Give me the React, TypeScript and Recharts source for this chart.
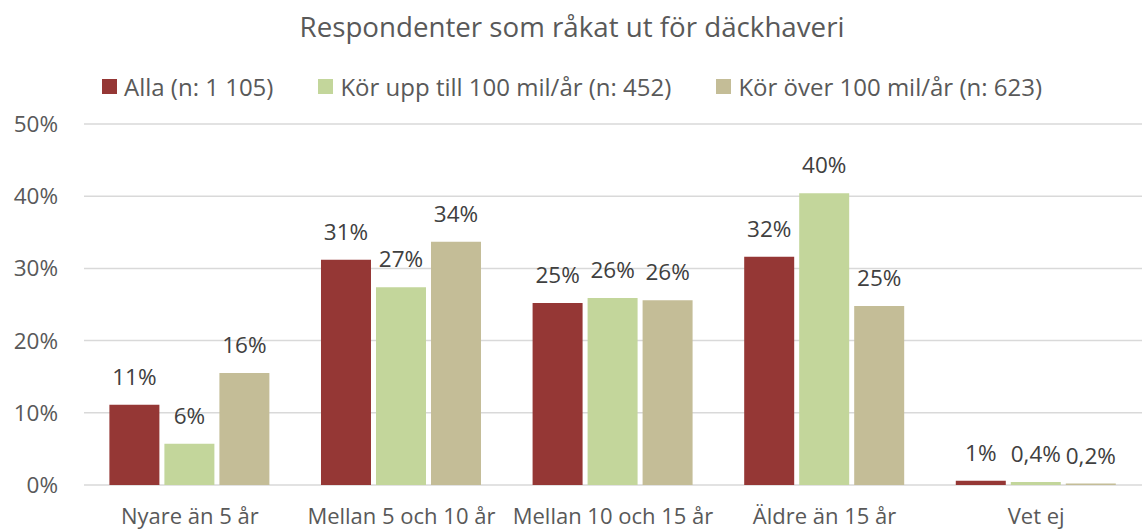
import React from 'react';
import { BarChart, Bar, XAxis, YAxis, CartesianGrid, Legend, LabelList } from 'recharts';

const categories = ['Nyare än 5 år', 'Mellan 5 och 10 år', 'Mellan 10 och 15 år', 'Äldre än 15 år', 'Vet ej'];
const alla = [11.1, 31.2, 25.2, 31.6, 0.6];
const korUpp = [5.7, 27.4, 25.9, 40.4, 0.4];
const korOver = [15.5, 33.7, 25.6, 24.8, 0.2];
const allaLabels = ['11%', '31%', '25%', '32%', '1%'];
const korUppLabels = ['6%', '27%', '26%', '40%', '0,4%'];
const korOverLabels = ['16%', '34%', '26%', '25%', '0,2%'];
const yTicks = [0, 10, 20, 30, 40, 50];

const seriesNames = ['Alla (n: 1 105)', 'Kör upp till 100 mil/år (n: 452)', 'Kör över 100 mil/år (n: 623)'];
const colors = ['#953735', '#C3D69B', '#C4BD97'];

const data = categories.map((c, i) => ({
  name: c,
  a: alla[i],
  b: korUpp[i],
  c: korOver[i],
  la: allaLabels[i],
  lb: korUppLabels[i],
  lc: korOverLabels[i],
}));

const FONT = '"Open Sans", sans-serif';
const TXT = '#595959';
const LBL = { fill: '#404040', fontSize: 22.5, fontFamily: FONT };

const renderLegend = () => (
  <div style={{ display: 'flex', justifyContent: 'center', gap: 45, fontFamily: FONT, fontSize: 24, color: TXT }}>
    {seriesNames.map((n, i) => (
      <div key={n} style={{ display: 'flex', alignItems: 'center' }}>
        <span style={{ display: 'inline-block', width: 15, height: 15, background: colors[i], marginRight: 7 }} />
        <span>{n}</span>
      </div>
    ))}
  </div>
);

export default function App() {
  return (
    <div style={{ position: 'absolute', left: 0, top: 0, width: 1144, height: 529, background: '#fff' }}>
      <div style={{ position: 'absolute', left: 0, top: 7, width: 1144, textAlign: 'center', fontFamily: FONT, fontSize: 27.7, color: TXT }}>
        Respondenter som råkat ut för däckhaveri
      </div>
      <BarChart
        width={1144}
        height={529}
        data={data}
        margin={{ top: 124, right: 2, bottom: 0, left: 0 }}
        barCategoryGap="12%"
        barGap={5}
      >
        <CartesianGrid vertical={false} stroke="#D9D9D9" strokeWidth={1.5} />
        <XAxis
          dataKey="name"
          axisLine={false}
          tickLine={false}
          height={44}
          tick={{ fill: TXT, fontSize: 22, fontFamily: FONT }}
          tickMargin={17}
          interval={0}
        />
        <YAxis
          domain={[0, 50]}
          ticks={yTicks}
          axisLine={false}
          tickLine={false}
          width={84}
          tickFormatter={(v: number) => `${v}%`}
          tick={{ fill: TXT, fontSize: 22.5, fontFamily: FONT }}
          tickMargin={20}
        />
        <Legend verticalAlign="middle" wrapperStyle={{ top: 70, left: 0, width: 1144 }} content={renderLegend} />
        <Bar dataKey="a" name={seriesNames[0]} fill={colors[0]} isAnimationActive={false}>
          <LabelList dataKey="la" position="top" offset={20} style={LBL} />
        </Bar>
        <Bar dataKey="b" name={seriesNames[1]} fill={colors[1]} isAnimationActive={false}>
          <LabelList dataKey="lb" position="top" offset={20} style={LBL} />
        </Bar>
        <Bar dataKey="c" name={seriesNames[2]} fill={colors[2]} isAnimationActive={false}>
          <LabelList dataKey="lc" position="top" offset={20} style={LBL} />
        </Bar>
      </BarChart>
    </div>
  );
}
